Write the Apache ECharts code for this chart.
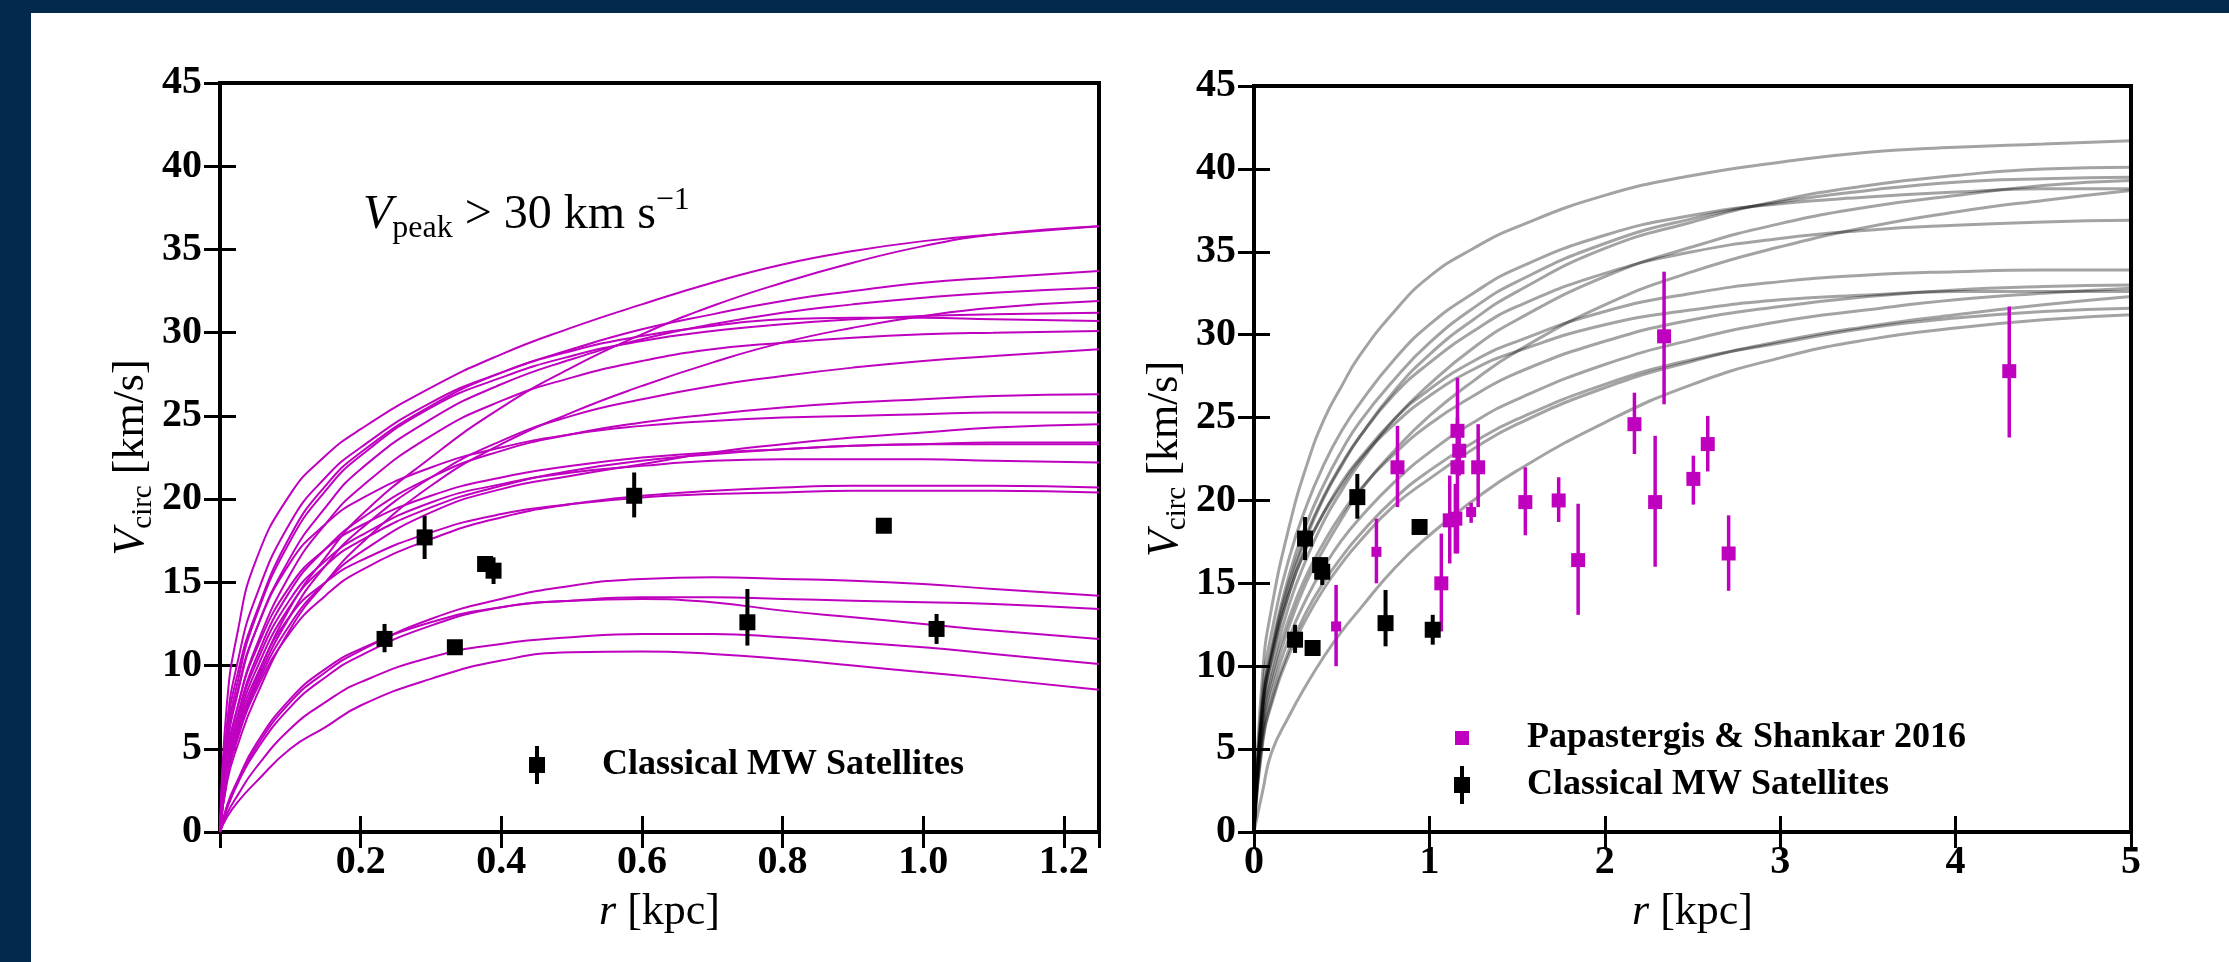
<!DOCTYPE html>
<html>
<head>
<meta charset="utf-8">
<script src="https://cdn.jsdelivr.net/npm/echarts@6.0.0/dist/echarts.min.js"></script>
<style>
  html, body { margin: 0; padding: 0; width: 2229px; height: 962px; overflow: hidden; background: #03294c; }
  #chart { position: absolute; left: 31px; top: 13px; width: 2198px; height: 949px; background: #fff; }
</style>
</head>
<body>
<div id="chart"></div>
<script>
const rLeft = [0, 0.01, 0.025, 0.05, 0.1, 0.15, 0.2, 0.3, 0.4, 0.5, 0.6, 0.7, 0.8, 0.9, 1.0, 1.1, 1.25]
const rRight = [0, 0.05, 0.1, 0.2, 0.3, 0.4, 0.5, 0.6, 0.8, 1.0, 1.25, 1.5, 2.0, 2.5, 3.0, 3.5, 4.0, 4.5, 5.0]

// left panel: subhalo rotation curves, Vpeak > 30 km/s (values at rLeft)
const leftCurves = [
  [0, 7.8, 12.0, 16.2, 20.3, 22.6, 24.2, 26.7, 28.7, 30.3, 31.7, 33.0, 34.1, 34.9, 35.5, 35.9, 36.4],
  [0, 3.5, 6.0, 9.0, 13.5, 16.5, 19.0, 22.5, 25.5, 27.9, 29.9, 31.6, 33.0, 34.2, 35.2, 35.9, 36.4],
  [0, 6.0, 9.5, 13.0, 17.8, 20.8, 22.8, 25.6, 27.6, 29.0, 30.2, 31.1, 31.9, 32.5, 33.0, 33.3, 33.7],
  [0, 5.0, 8.3, 12.0, 16.5, 19.5, 21.8, 24.8, 26.9, 28.4, 29.6, 30.5, 31.2, 31.7, 32.1, 32.4, 32.7],
  [0, 3.0, 5.2, 8.0, 12.2, 15.0, 17.3, 20.8, 23.3, 25.2, 26.8, 28.2, 29.4, 30.3, 31.0, 31.5, 31.9],
  [0, 5.5, 9.0, 12.8, 17.5, 20.5, 22.6, 25.5, 27.3, 28.6, 29.5, 30.1, 30.5, 30.8, 31.0, 31.1, 31.2],
  [0, 6.5, 10.2, 14.0, 18.6, 21.3, 23.1, 25.8, 27.6, 28.9, 29.8, 30.4, 30.8, 30.9, 30.9, 30.8, 30.7],
  [0, 4.5, 7.5, 11.0, 15.5, 18.5, 20.7, 23.8, 25.9, 27.3, 28.3, 29.0, 29.4, 29.7, 29.9, 30.0, 30.1],
  [0, 3.2, 5.8, 8.8, 13.0, 16.0, 18.2, 21.3, 23.5, 25.0, 26.0, 26.8, 27.4, 27.9, 28.3, 28.6, 29.0],
  [0, 4.2, 7.0, 10.3, 14.5, 17.0, 18.8, 21.3, 22.9, 23.9, 24.6, 25.1, 25.5, 25.8, 26.0, 26.2, 26.3],
  [0, 5.2, 8.5, 12.0, 16.2, 18.5, 20.0, 21.9, 23.1, 23.9, 24.4, 24.7, 24.9, 25.0, 25.1, 25.2, 25.2],
  [0, 3.3, 5.8, 8.6, 12.5, 15.0, 16.8, 19.2, 20.6, 21.4, 22.1, 22.8, 23.3, 23.7, 24.0, 24.3, 24.5],
  [0, 4.5, 7.5, 10.8, 14.8, 17.0, 18.4, 20.2, 21.3, 22.0, 22.5, 22.8, 23.0, 23.2, 23.3, 23.4, 23.4],
  [0, 3.8, 6.5, 9.6, 13.6, 16.0, 17.5, 19.5, 20.8, 21.7, 22.3, 22.7, 23.0, 23.2, 23.3, 23.3, 23.3],
  [0, 4.0, 6.8, 10.0, 14.0, 16.3, 17.8, 19.8, 20.9, 21.6, 22.0, 22.3, 22.4, 22.4, 22.4, 22.3, 22.2],
  [0, 3.2, 5.6, 8.4, 12.0, 14.2, 15.7, 17.6, 18.9, 19.7, 20.2, 20.5, 20.7, 20.8, 20.8, 20.8, 20.7],
  [0, 3.6, 6.2, 9.2, 13.0, 15.0, 16.3, 18.0, 19.1, 19.7, 20.1, 20.3, 20.4, 20.5, 20.5, 20.5, 20.4],
  [0, 1.5, 3.0, 5.0, 7.8, 9.6, 10.9, 12.8, 14.0, 14.8, 15.2, 15.3, 15.2, 15.1, 14.9, 14.6, 14.2],
  [0, 1.4, 2.9, 4.8, 7.5, 9.3, 10.6, 12.4, 13.5, 13.9, 14.1, 14.1, 14.0, 13.9, 13.8, 13.7, 13.4],
  [0, 1.6, 3.1, 5.2, 8.0, 9.8, 11.0, 12.6, 13.5, 13.9, 14.0, 13.8, 13.3, 12.9, 12.5, 12.1, 11.6],
  [0, 1.1, 2.2, 3.8, 6.2, 7.8, 9.0, 10.5, 11.3, 11.7, 11.9, 11.9, 11.7, 11.4, 11.1, 10.7, 10.1],
  [0, 0.9, 1.8, 2.95, 5.0, 6.3, 7.6, 9.2, 10.3, 10.8, 10.85, 10.7, 10.4, 10.0, 9.6, 9.2, 8.55]
]

// right panel: grey rotation curves (values at rRight)
const rightCurves = [
  [0, 9.7, 13.5, 18.4, 22.1, 24.9, 26.9, 28.7, 31.4, 33.5, 35.2, 36.5, 38.4, 39.6, 40.4, 41.0, 41.3, 41.5, 41.7],
  [0, 7.6, 10.7, 14.8, 17.8, 20.2, 22.1, 23.8, 26.6, 28.8, 30.9, 32.6, 35.2, 36.8, 38.1, 39.0, 39.6, 40.0, 40.1],
  [0, 8.0, 11.1, 15.5, 18.6, 21.0, 23.0, 24.7, 27.3, 29.5, 31.6, 33.2, 35.5, 37.0, 38.0, 38.7, 39.2, 39.4, 39.5],
  [0, 7.0, 9.8, 13.7, 16.5, 18.8, 20.6, 22.2, 24.9, 27.0, 29.2, 30.9, 33.5, 35.3, 36.7, 37.7, 38.4, 39.0, 39.3],
  [0, 6.3, 8.9, 12.4, 15.1, 17.1, 18.9, 20.5, 23.0, 25.1, 27.2, 29.0, 31.8, 33.8, 35.3, 36.5, 37.4, 38.1, 38.7],
  [0, 7.8, 10.9, 15.1, 18.0, 20.3, 22.2, 23.8, 26.4, 28.3, 30.2, 31.7, 33.7, 35.0, 35.8, 36.3, 36.6, 36.8, 36.9],
  [0, 7.5, 10.4, 14.4, 17.2, 19.3, 21.1, 22.5, 24.9, 26.7, 28.4, 29.6, 31.4, 32.5, 33.2, 33.6, 33.8, 33.9, 33.9],
  [0, 6.6, 9.3, 12.9, 15.5, 17.5, 19.2, 20.6, 22.8, 24.6, 26.3, 27.7, 29.6, 30.9, 31.7, 32.3, 32.7, 32.9, 33.0],
  [0, 6.0, 8.4, 11.7, 14.1, 16.0, 17.6, 18.9, 21.1, 22.9, 24.7, 26.1, 28.2, 29.7, 30.8, 31.5, 32.1, 32.5, 32.8],
  [0, 5.4, 7.7, 10.7, 12.9, 14.7, 16.2, 17.5, 19.7, 21.3, 23.1, 24.6, 26.8, 28.4, 29.6, 30.5, 31.2, 31.8, 32.3],
  [0, 5.6, 7.9, 11.0, 13.3, 15.1, 16.6, 17.9, 20.1, 21.8, 23.5, 24.9, 27.0, 28.5, 29.5, 30.4, 31.0, 31.4, 31.6],
  [0, 2.5, 4.8, 7.0, 8.9, 10.6, 12.1, 13.4, 15.9, 17.9, 20.0, 21.8, 24.7, 27.0, 28.6, 29.7, 30.4, 30.9, 31.2],
  [0, 8.6, 12.0, 16.5, 19.7, 22.2, 24.2, 25.8, 28.5, 30.6, 32.5, 34.0, 36.0, 37.2, 37.9, 38.3, 38.6, 38.8, 38.8],
  [0, 7.5, 10.5, 14.4, 17.2, 19.3, 20.9, 22.4, 24.6, 26.3, 27.9, 29.0, 30.6, 31.5, 32.1, 32.4, 32.6, 32.6, 32.6]
]

// classical MW satellites: radius, Vcirc, lower and upper error
const satR = [0.234, 0.291, 0.334, 0.377, 0.389, 0.589, 0.750, 0.944, 1.019]
const satV = [11.6, 17.7, 11.1, 16.1, 15.7, 20.2, 12.6, 18.4, 12.2]
const satLo = [10.8, 16.4, 10.7, 15.7, 14.9, 18.9, 11.2, 18.0, 11.3]
const satHi = [12.5, 19.0, 11.5, 16.5, 16.5, 21.6, 14.6, 18.8, 13.1]

// Papastergis & Shankar 2016 galaxies
const psR = [0.468, 0.698, 0.818, 1.068, 1.116, 1.148, 1.160, 1.170, 1.160, 1.238, 1.278, 1.547, 1.737, 1.848, 2.169, 2.287, 2.338, 2.505, 2.587, 2.706, 4.306]
const psV = [12.4, 16.9, 22.0, 15.0, 18.8, 18.9, 24.2, 23.0, 22.0, 19.3, 22.0, 19.9, 20.0, 16.4, 24.6, 19.9, 29.9, 21.3, 23.4, 16.8, 27.8]
const psLo = [10.0, 15.0, 19.6, 12.1, 16.2, 16.8, 21.5, 21.5, 16.8, 18.65, 19.6, 17.9, 18.7, 13.1, 22.8, 16.0, 25.8, 19.75, 21.75, 14.55, 23.8]
const psHi = [14.9, 18.9, 24.5, 18.0, 21.5, 21.0, 27.4, 24.5, 25.0, 19.85, 24.6, 22.0, 21.4, 19.8, 26.5, 23.9, 33.8, 22.7, 25.1, 19.1, 31.7]

const SAT_NAME = 'Classical MW Satellites'
const PS_NAME = 'Papastergis & Shankar 2016'

const OX = 31, OY = 13
const FONT = "'Liberation Serif', 'Times New Roman', serif"
const MAG = '#bf00bf'
const psSmall = [0, 1, 9]   // drawn with the smaller marker

const chart = echarts.init(document.getElementById('chart'))

function errorBarRender(size, barWidth, color, small) {
  return function (params, api) {
    const x = api.value(0)
    const c = api.coord([x, api.value(1)])
    const lo = api.coord([x, api.value(2)])
    const hi = api.coord([x, api.value(3)])
    const s = small && small.indexOf(params.dataIndex) >= 0 ? 10 : size
    return {
      type: 'group',
      children: [
        { type: 'line', shape: { x1: c[0], y1: lo[1], x2: c[0], y2: hi[1] }, style: { stroke: color, lineWidth: barWidth } },
        { type: 'rect', shape: { x: c[0] - s / 2, y: c[1] - s / 2, width: s, height: s }, style: { fill: color } }
      ]
    }
  }
}

const tickStyle = { show: true, inside: true, length: 16, lineStyle: { color: '#000', width: 3 } }
const labelStyle = { color: '#000', fontFamily: FONT, fontWeight: 'bold', fontSize: 40 }
const nameRich = {
  i: { fontFamily: FONT, fontStyle: 'italic', fontSize: 44, lineHeight: 56, color: '#000' },
  n: { fontFamily: FONT, fontSize: 44, lineHeight: 56, color: '#000' },
  s: { fontFamily: FONT, fontSize: 29, lineHeight: 32, padding: [24, 0, 0, 0], color: '#000' }
}

function xAxisPair(grid, max, interval, fmt) {
  return [
    {
      gridIndex: grid, type: 'value', min: 0, max: max, interval: interval, position: 'bottom',
      axisLine: { show: false }, splitLine: { show: false }, axisTick: tickStyle,
      axisLabel: Object.assign({ margin: 11, formatter: fmt }, labelStyle),
      name: '{i|r}{n| [kpc]}', nameLocation: 'middle', nameGap: 52,
      nameTextStyle: { rich: nameRich }
    },
    {
      gridIndex: grid, type: 'value', min: 0, max: max, interval: interval, position: 'top',
      axisLine: { show: false }, splitLine: { show: false }, axisTick: tickStyle, axisLabel: { show: false }
    }
  ]
}

function yAxisPair(grid, gap) {
  return [
    {
      gridIndex: grid, type: 'value', min: 0, max: 45, interval: 5, position: 'left',
      axisLine: { show: false }, splitLine: { show: false }, axisTick: tickStyle,
      axisLabel: Object.assign({ margin: 18 }, labelStyle),
      name: '{i|V}{s|circ}{n| [km/s]}', nameLocation: 'middle', nameRotate: 90, nameGap: gap,
      nameTextStyle: { rich: nameRich }
    },
    {
      gridIndex: grid, type: 'value', min: 0, max: 45, interval: 5, position: 'right',
      axisLine: { show: false }, splitLine: { show: false }, axisTick: tickStyle, axisLabel: { show: false }
    }
  ]
}

const leftFmt = v => (v > 0 && Math.abs(v * 5 - Math.round(v * 5)) < 1e-6) ? v.toFixed(1) : ''
const rightFmt = v => (Math.abs(v - Math.round(v)) < 1e-6) ? String(v) : ''

const series = []
leftCurves.forEach((vals, k) => {
  series.push({
    name: 'left' + k, type: 'line', xAxisIndex: 0, yAxisIndex: 0, silent: true,
    showSymbol: false, symbol: 'none', smooth: 0.5, z: 2,
    lineStyle: { color: MAG, width: 2 },
    data: rLeft.map((r, i) => [r, vals[i]])
  })
})
rightCurves.forEach((vals, k) => {
  series.push({
    name: 'right' + k, type: 'line', xAxisIndex: 2, yAxisIndex: 2, silent: true,
    showSymbol: false, symbol: 'none', smooth: 0.5, z: 2,
    lineStyle: { color: 'rgba(0,0,0,0.36)', width: 3 },
    data: rRight.map((r, i) => [r, vals[i]])
  })
})
const satData = satR.map((r, i) => [r, satV[i], satLo[i], satHi[i]])
series.push({
  name: SAT_NAME, type: 'custom', xAxisIndex: 0, yAxisIndex: 0, z: 5,
  itemStyle: { color: '#000' }, renderItem: errorBarRender(16, 4, '#000'), data: satData
})
series.push({
  name: PS_NAME, type: 'custom', xAxisIndex: 2, yAxisIndex: 2, z: 4,
  itemStyle: { color: MAG },
  renderItem: errorBarRender(14, 3.5, MAG, psSmall),
  data: psR.map((r, i) => [r, psV[i], psLo[i], psHi[i]])
})
series.push({
  name: SAT_NAME, type: 'custom', xAxisIndex: 2, yAxisIndex: 2, z: 5,
  itemStyle: { color: '#000' }, renderItem: errorBarRender(16, 4, '#000'), data: satData
})

const satIcon = 'path://M6,0H10V11H16V27H10V38H6V27H0V11H6Z'
const psIcon = 'path://M0,0L0,0M16,38L16,38M1,12H15V26H1Z'
const legendText = { fontFamily: FONT, fontWeight: 'bold', fontSize: 36, color: '#000', padding: [0, 0, 0, 52] }

chart.setOption({
  animation: false,
  backgroundColor: '#fff',
  grid: [
    { left: 220 - OX, top: 83 - OY, width: 879, height: 749, show: true, borderColor: '#000', borderWidth: 4 },
    { left: 1254 - OX, top: 86 - OY, width: 877, height: 746, show: true, borderColor: '#000', borderWidth: 4 }
  ],
  xAxis: [...xAxisPair(0, 1.25, 0.2, leftFmt), ...xAxisPair(1, 5, 1, rightFmt)],
  yAxis: [...yAxisPair(0, 58), ...yAxisPair(1, 54)],
  legend: [
    {
      left: 529 - OX, top: 746 - OY, orient: 'vertical', selectedMode: false, padding: 0,
      itemWidth: 16, itemHeight: 38, itemGap: 9, textStyle: legendText,
      data: [{ name: SAT_NAME, icon: satIcon }]
    },
    {
      left: 1454 - OX, top: 719 - OY, orient: 'vertical', selectedMode: false, padding: 0,
      itemWidth: 16, itemHeight: 38, itemGap: 9, textStyle: legendText,
      data: [{ name: PS_NAME, icon: psIcon }, { name: SAT_NAME, icon: satIcon }]
    }
  ],
  graphic: [
    {
      type: 'text', left: 363 - OX, top: 185 - OY, silent: true,
      style: {
        text: '{i|V}{s|peak}{n| > 30 km s}{p|\u22121}',
        fill: '#000',
        rich: {
          i: { fontFamily: FONT, fontStyle: 'italic', fontSize: 48, lineHeight: 64 },
          n: { fontFamily: FONT, fontSize: 48, lineHeight: 64 },
          s: { fontFamily: FONT, fontSize: 32, lineHeight: 36, padding: [28, 0, 0, 0] },
          p: { fontFamily: FONT, fontSize: 32, lineHeight: 36, padding: [0, 0, 28, 0] }
        }
      }
    }
  ],
  series: series
})
</script>
</body>
</html>
